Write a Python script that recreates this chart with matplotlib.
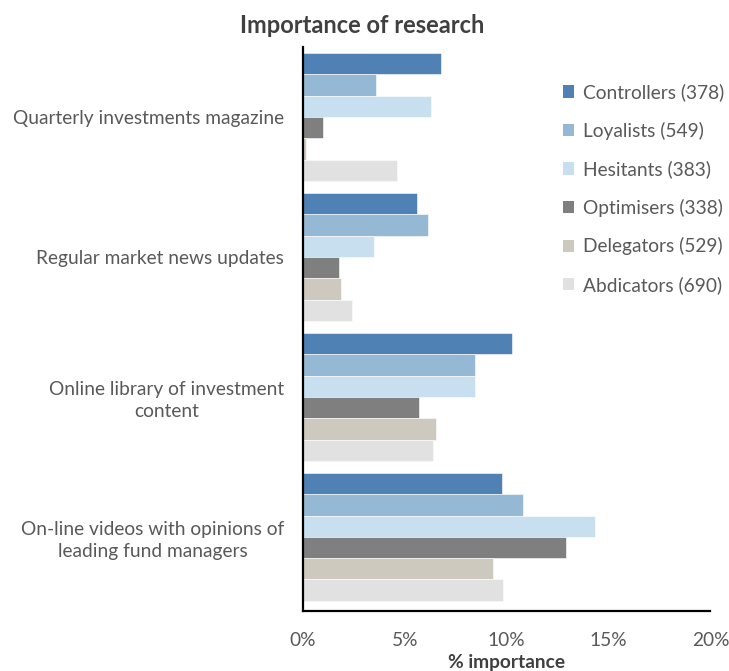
import matplotlib
matplotlib.use('Agg')
import matplotlib.pyplot as plt
from matplotlib.patches import Patch
from matplotlib.ticker import FuncFormatter
import numpy as np

plt.rcParams['font.family'] = ['Lato', 'DejaVu Sans']

# Chart data
categories = ['Quarterly investments magazine',
              'Regular market news updates',
              'Online library of investment\ncontent',
              'On-line videos with opinions of\nleading fund managers']
series = ['Controllers (378)', 'Loyalists (549)', 'Hesitants (383)',
          'Optimisers (338)', 'Delegators (529)', 'Abdicators (690)']
controllers = [6.75, 5.6, 10.25, 9.75]
loyalists = [3.6, 6.15, 8.45, 10.8]
hesitants = [6.3, 3.5, 8.45, 14.33]
optimisers = [0.97, 1.78, 5.7, 12.93]
delegators = [0.15, 1.85, 6.55, 9.31]
abdicators = [4.6, 2.4, 6.37, 9.8]
values = [controllers, loyalists, hesitants, optimisers, delegators, abdicators]
colors = ['#4f81b5', '#95b9d4', '#c7dfef', '#7f7f7f', '#cdc9be', '#e1e1e1']

text_col = '#595959'
fs = 13.8

fig = plt.figure(figsize=(7.29, 6.71), dpi=100)
ax = fig.add_axes([0.4156, 0.0894, 0.559, 0.8406])

y = np.arange(len(categories))
h = 0.914 / len(series)
for j, vals in enumerate(values):
    ax.barh(y + (j - 2.5) * h, vals, height=h, color=colors[j],
            edgecolor='white', linewidth=0.4)

ax.set_xlim(0, 20)
ax.set_ylim(3.53, -0.5)
ax.set_xticks([0, 5, 10, 15, 20])
ax.xaxis.set_major_formatter(FuncFormatter(lambda v, p: f'{v:.0f}%'))
ax.set_yticks(y)
ax.set_yticklabels(categories, ha='right', multialignment='center',
                   linespacing=1.3)
ax.tick_params(axis='both', length=0, labelsize=fs, colors=text_col)
ax.tick_params(axis='x', pad=15)
ax.tick_params(axis='y', pad=13.5)

for s in ['top', 'right']:
    ax.spines[s].set_visible(False)
for s in ['left', 'bottom']:
    ax.spines[s].set_color('black')
    ax.spines[s].set_linewidth(1.6)

ax.set_xlabel('% importance', fontsize=fs, fontweight='bold',
              color='#404040', labelpad=3.5)
fig.text(0.497, 0.962, 'Importance of research', ha='center', va='center',
         fontsize=17, fontweight='bold', color='#404040')

handles = [Patch(facecolor=c, edgecolor='none') for c in colors]
fig.legend(handles, series, loc='center left',
           bbox_to_anchor=(0.772, 0.719), frameon=False,
           fontsize=fs, labelcolor=text_col, handlelength=0.6,
           handleheight=0.6, handletextpad=0.45, labelspacing=1.07,
           borderpad=0, borderaxespad=0)

fig.savefig('out.png', dpi=100)
